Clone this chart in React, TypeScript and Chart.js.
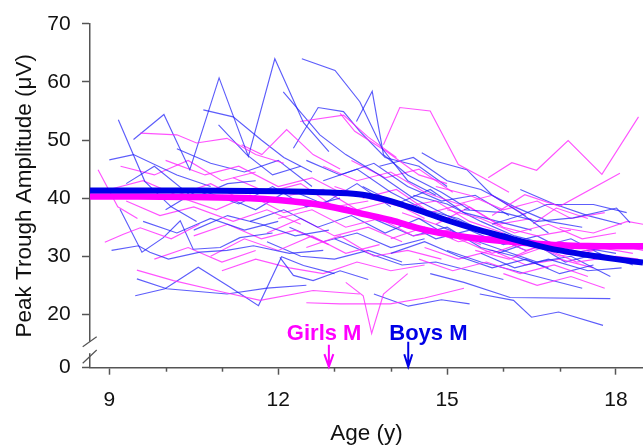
import React, { useEffect, useRef } from "react";
import { Chart, registerables } from "chart.js";

Chart.register(...registerables);

// ---- axis definitions ----
const xMin = 8.657;
const xMax = 18.48;
const xTickValues = [9, 12, 15, 18];
const xMinorTickValues = [10, 11, 13, 14, 16, 17];
const yTickValues = [20, 30, 40, 50, 60, 70];
const yBreakValue = 10.81; // where the "0" tick sits below the axis break
const yBreakLabel = "0";
const yMax = 70;

// ---- group means (thick curves) ----
const boysMeanAges = [8.657, 9.5, 10.5, 11.5, 12.0, 12.5, 13.0, 13.5, 14.0, 14.5, 15.0, 15.5, 16.0, 16.5, 17.0, 17.5, 18.0, 18.48];
const boysMeanValues = [41.3, 41.3, 41.3, 41.25, 41.2, 41.1, 40.95, 40.6, 39.5, 37.9, 36.2, 34.7, 33.4, 32.1, 31.0, 30.2, 29.5, 28.9];
const girlsMeanAges = [8.657, 9.5, 10.5, 11.5, 12.0, 12.5, 13.0, 13.5, 14.0, 14.5, 15.0, 15.5, 16.0, 16.5, 17.0, 17.5, 18.0, 18.48];
const girlsMeanValues = [40.3, 40.3, 40.2, 40.0, 39.7, 39.2, 38.4, 37.3, 36.2, 34.8, 33.8, 33.1, 32.6, 32.2, 31.9, 31.75, 31.7, 31.7];

// ---- age at peak (M) markers ----
const girlsMarkerAge = 12.9;
const boysMarkerAge = 14.31;
const girlsMarkerLabel = "Girls M";
const boysMarkerLabel = "Boys M";

// ---- individual trajectories [age, amplitude] ----
const boysSubjects: number[][][] = [
  [[9.16, 53.5], [9.63, 42.9], [10.1, 38.5], [10.55, 36.0]],
  [[9.43, 50.1], [9.97, 54.4], [10.43, 44.9], [10.95, 60.7], [11.47, 47.2], [11.94, 64.0], [12.45, 53.0], [12.9, 48.0]],
  [[12.42, 64.0], [13.01, 62.0], [13.45, 56.6], [13.85, 48.5], [14.3, 43.0], [14.8, 40.5]],
  [[13.39, 53.2], [13.67, 58.4], [13.87, 47.5], [14.3, 44.0], [14.9, 41.0], [15.4, 38.0]],
  [[10.67, 55.2], [11.2, 54.0], [11.7, 50.0], [12.1, 47.0], [12.6, 44.5]],
  [[12.09, 58.3], [12.74, 50.9], [13.2, 47.5], [13.8, 44.0], [14.4, 40.0], [15.0, 37.0], [15.6, 34.5]],
  [[10.94, 52.6], [11.44, 47.5], [11.9, 44.0], [12.4, 45.5]],
  [[12.27, 48.6], [12.71, 55.6], [13.16, 54.9], [13.45, 51.5], [13.9, 47.0], [14.5, 45.5], [15.0, 42.0]],
  [[14.55, 47.8], [14.82, 46.3], [15.35, 44.9], [15.8, 40.5], [16.3, 37.5], [16.8, 34.0]],
  [[15.8, 35.5], [16.3, 37.0], [16.77, 38.9], [17.6, 38.9], [18.19, 37.5]],
  [[15.3, 38.0], [16.0, 37.5], [16.6, 36.0], [17.24, 36.6], [18.01, 38.3], [18.25, 35.8]],
  [[9.46, 23.2], [9.99, 24.4], [10.58, 28.1], [11.14, 24.7], [11.65, 21.5], [12.06, 29.9], [12.45, 28.4], [13.0, 27.0]],
  [[9.49, 26.1], [10.02, 24.4], [11.09, 23.5], [11.8, 24.5], [12.5, 25.0]],
  [[9.04, 31.0], [9.52, 31.8], [9.72, 30.7], [10.05, 29.5], [10.61, 30.7], [11.09, 31.0], [11.56, 31.8], [12.2, 30.5], [12.8, 31.0]],
  [[9.19, 38.1], [9.58, 30.7], [9.96, 33.2], [10.26, 36.1], [10.49, 31.2], [10.97, 31.5], [11.32, 33.2], [11.9, 34.0]],
  [[12.03, 29.8], [12.27, 26.7], [12.62, 25.8], [13.1, 27.5], [13.6, 26.0]],
  [[15.58, 23.5], [16.18, 22.4], [16.5, 19.5], [16.98, 20.4], [17.77, 18.1]],
  [[14.7, 27.0], [15.3, 25.5], [16.12, 22.9], [17.9, 22.7]],
  [[13.7, 23.5], [14.31, 21.4], [14.9, 22.5], [15.4, 21.8]],
  [[9.0, 46.6], [9.43, 47.5], [10.2, 44.0], [10.8, 42.0]],
  [[9.3, 42.5], [9.8, 45.5], [10.5, 40.0], [11.1, 42.5], [11.6, 43.0]],
  [[10.0, 38.0], [10.6, 41.5], [11.3, 39.0], [11.9, 42.0], [12.5, 38.5], [13.1, 40.0]],
  [[11.5, 36.0], [12.1, 38.0], [12.7, 35.0], [13.3, 37.0], [13.9, 34.0], [14.5, 36.5], [15.1, 33.0]],
  [[12.8, 43.0], [13.4, 45.0], [14.0, 41.0], [14.6, 38.0], [15.2, 36.5], [15.8, 33.5], [16.4, 31.0]],
  [[13.2, 38.5], [13.8, 36.0], [14.4, 33.5], [15.0, 35.0], [15.6, 31.5], [16.2, 30.0], [16.8, 28.0]],
  [[14.0, 30.5], [14.6, 32.5], [15.2, 30.0], [15.8, 28.0], [16.4, 29.5], [17.0, 27.0], [17.6, 28.5]],
  [[15.0, 31.0], [15.6, 29.0], [16.2, 27.5], [16.8, 26.0], [17.4, 24.5]],
  [[13.0, 33.0], [13.6, 30.5], [14.2, 28.5], [14.8, 29.0], [15.4, 27.5], [16.0, 26.0]],
  [[10.5, 34.5], [11.1, 37.0], [11.7, 35.5], [12.3, 33.5], [12.9, 34.5]],
  [[14.4, 40.5], [15.0, 39.0], [15.6, 36.0], [16.2, 33.5], [16.8, 32.0], [17.4, 31.5], [18.0, 30.5]],
  [[16.0, 34.0], [16.6, 31.5], [17.2, 33.0], [17.8, 30.0]],
  [[11.8, 32.5], [12.4, 30.0], [13.0, 29.5], [13.6, 31.0], [14.2, 29.0]],
  [[15.6, 30.5], [16.2, 28.0], [16.8, 29.5], [17.5, 27.5], [18.1, 28.0]],
  [[13.5, 42.0], [14.1, 39.0], [14.7, 41.5], [15.3, 37.5], [15.9, 36.0], [16.5, 34.5]],
  [[14.8, 35.5], [15.4, 33.0], [16.0, 31.0], [16.6, 29.0], [17.2, 30.0], [17.9, 26.5]],
  [[11.0, 40.5], [11.6, 38.0], [12.2, 41.5], [12.8, 39.0], [13.4, 42.5], [14.0, 38.5]],
  [[12.5, 46.5], [13.1, 44.0], [13.7, 46.0], [14.3, 42.0], [14.9, 39.5], [15.5, 40.5], [16.1, 37.0]],
  [[13.8, 45.5], [14.4, 47.0], [15.0, 43.0], [15.6, 41.5], [16.2, 38.5], [16.8, 36.0], [17.4, 35.0]],
  [[14.2, 36.0], [14.8, 33.0], [15.4, 34.5], [16.0, 32.0], [16.6, 33.5], [17.2, 30.5], [17.8, 31.5]],
  [[9.6, 36.0], [10.2, 34.0], [10.8, 36.5], [11.4, 34.5], [12.0, 36.0]],
  [[12.2, 35.0], [12.8, 32.5], [13.4, 34.0], [14.0, 31.5], [14.6, 33.0]],
  [[15.9, 30.5], [16.5, 32.5], [17.1, 29.0], [17.7, 30.5], [18.3, 28.5]],
  [[16.3, 41.5], [16.9, 39.0], [17.5, 37.0], [18.1, 35.5]],
  [[10.2, 48.5], [10.8, 46.0], [11.4, 44.5], [12.0, 46.5], [12.6, 42.0]],
];

const girlsSubjects: number[][][] = [
  [[9.55, 51.2], [10.2, 50.9], [10.55, 49.5], [11.09, 50.3], [11.6, 47.5], [12.1, 46.0]],
  [[11.35, 49.2], [11.71, 47.5], [12.15, 51.8], [12.62, 47.5], [13.1, 45.0]],
  [[12.39, 53.2], [13.16, 54.3], [13.6, 50.5], [14.1, 47.0]],
  [[8.8, 44.9], [9.15, 38.5], [9.5, 36.5]],
  [[13.1, 54.6], [13.36, 51.5], [13.93, 48.0], [14.5, 44.0], [15.0, 42.5]],
  [[13.87, 49.2], [14.16, 55.6], [14.7, 55.0], [15.2, 45.8], [15.64, 43.5], [16.1, 41.0]],
  [[15.73, 43.5], [16.15, 46.1], [16.59, 44.8], [17.15, 49.9], [17.75, 44.1], [18.4, 54.0]],
  [[15.8, 37.0], [16.38, 40.6], [17.0, 38.6], [18.07, 44.3]],
  [[9.49, 27.6], [10.14, 25.8], [11.03, 23.8], [11.68, 22.4], [12.62, 24.1], [13.45, 23.5]],
  [[12.5, 22.0], [13.1, 21.8], [13.99, 21.8], [14.6, 22.8], [15.3, 24.5]],
  [[13.2, 25.5], [13.51, 23.2], [13.66, 16.7], [13.87, 23.5], [14.3, 27.0]],
  [[8.92, 32.4], [9.25, 33.8], [9.55, 34.9], [10.1, 33.0], [10.6, 35.5]],
  [[16.53, 35.6], [16.94, 38.3], [17.5, 36.5]],
  [[9.0, 41.5], [9.6, 43.0], [10.2, 40.5], [10.8, 42.5], [11.4, 39.5]],
  [[9.3, 39.5], [9.9, 37.0], [10.5, 38.5], [11.2, 36.0], [11.8, 38.0], [12.4, 35.5]],
  [[10.0, 46.5], [10.7, 44.0], [11.3, 45.5], [12.0, 42.0], [12.6, 43.5], [13.2, 40.5]],
  [[10.8, 30.0], [11.4, 33.0], [12.0, 31.0], [12.6, 33.5], [13.2, 30.5], [13.8, 32.0]],
  [[11.0, 27.5], [11.6, 29.5], [12.2, 28.0], [12.8, 27.0], [13.4, 29.0], [14.0, 27.5], [14.6, 28.5]],
  [[12.0, 36.5], [12.6, 38.0], [13.2, 35.0], [13.8, 36.5], [14.4, 33.5], [15.0, 34.5], [15.6, 32.0]],
  [[13.0, 42.0], [13.6, 40.0], [14.2, 38.5], [14.8, 39.5], [15.4, 36.0], [16.0, 34.0]],
  [[14.0, 33.0], [14.6, 35.0], [15.2, 32.5], [15.8, 33.5], [16.4, 31.0], [17.0, 32.5], [17.6, 31.0]],
  [[14.5, 29.5], [15.1, 27.5], [15.7, 29.0], [16.3, 27.0], [16.9, 28.5], [17.5, 26.5]],
  [[15.0, 38.0], [15.6, 36.5], [16.2, 34.0], [16.8, 35.5], [17.4, 33.0], [18.0, 34.0]],
  [[15.5, 31.0], [16.1, 29.5], [16.7, 31.5], [17.3, 29.0], [18.0, 30.0], [18.4, 29.5]],
  [[16.0, 27.0], [16.6, 25.0], [17.2, 26.5], [17.8, 24.5]],
  [[12.5, 31.5], [13.1, 33.5], [13.7, 30.0], [14.3, 31.0], [14.9, 29.5]],
  [[10.3, 40.0], [10.9, 38.0], [11.5, 40.5], [12.1, 37.5], [12.7, 39.0]],
  [[17.0, 35.0], [17.6, 34.0], [18.2, 36.0], [18.48, 35.5]],
  [[9.8, 29.5], [10.4, 31.5], [11.0, 29.0], [11.6, 31.0]],
  [[12.8, 45.5], [13.4, 43.0], [14.0, 44.5], [14.6, 41.0], [15.2, 39.0], [15.8, 40.5], [16.4, 37.0]],
  [[11.2, 43.5], [11.8, 41.0], [12.4, 42.5], [13.0, 38.5], [13.6, 39.5]],
  [[14.2, 37.5], [14.8, 35.5], [15.4, 38.5], [16.0, 35.0], [16.6, 33.5], [17.2, 34.5]],
  [[15.2, 33.0], [15.8, 30.5], [16.4, 32.5], [17.0, 30.0], [17.7, 31.5], [18.3, 30.5]],
  [[11.8, 34.0], [12.4, 36.5], [13.0, 33.5], [13.6, 35.0], [14.2, 32.5]],
  [[13.5, 40.0], [14.1, 41.5], [14.7, 37.5], [15.3, 39.0], [15.9, 35.5], [16.5, 36.5]],
  [[14.8, 42.0], [15.4, 40.5], [16.0, 38.0], [16.6, 39.5], [17.2, 36.5], [17.8, 37.5]],
  [[9.2, 45.5], [9.8, 44.0], [10.4, 46.5], [11.0, 43.0], [11.6, 44.5]],
  [[16.2, 30.0], [16.8, 32.5], [17.4, 30.5], [18.0, 32.0], [18.48, 31.0]],
  [[12.2, 40.5], [12.8, 41.5], [13.4, 38.0], [14.0, 39.5], [14.6, 36.5]],
  [[10.5, 33.5], [11.1, 35.5], [11.7, 33.0], [12.3, 34.5], [12.9, 32.0]],
  [[14.6, 31.5], [15.2, 29.5], [15.8, 31.0], [16.4, 28.5], [17.0, 29.5], [17.6, 28.0]],
  [[13.3, 46.5], [13.9, 43.5], [14.5, 45.0], [15.1, 41.0]],
];

// ---- styling ----
const FONT = "'Liberation Sans', Arial, Helvetica, sans-serif";
const AXIS_COLOR = "#555555";
const TEXT_COLOR = "#111111";
const BOY_THIN = "rgba(30,30,250,0.72)";
const GIRL_THIN = "rgba(255,40,255,0.80)";
const BOY_THICK = "#0000e6";
const GIRL_THICK = "#ff00ff";

const decorPlugin = {
  id: "decor",
  afterDraw(chart: any) {
    const { ctx, chartArea, scales } = chart;
    const xs = scales.x;
    const L = chartArea.left;
    const B = chartArea.bottom;
    ctx.save();
    // minor x ticks
    ctx.strokeStyle = AXIS_COLOR;
    ctx.lineWidth = 1.5;
    xMinorTickValues.forEach((v) => {
      const px = Math.round(xs.getPixelForValue(v)) + 0.5;
      ctx.beginPath();
      ctx.moveTo(px, B);
      ctx.lineTo(px, B + 4);
      ctx.stroke();
    });
    // axis break
    ctx.fillStyle = "#ffffff";
    ctx.fillRect(L - 3, B - 26, 6, 11.5);
    ctx.strokeStyle = AXIS_COLOR;
    ctx.lineWidth = 1.2;
    ctx.beginPath();
    ctx.moveTo(L - 7.3, B - 21);
    ctx.lineTo(L + 6.7, B - 31);
    ctx.moveTo(L - 7.3, B - 4.4);
    ctx.lineTo(L + 6.7, B - 17.7);
    ctx.stroke();

    // markers
    const drawMarker = (age: number, color: string, label: string, textOffset: number, shaftTop: number, headHalf: number) => {
      const px = xs.getPixelForValue(age);
      ctx.strokeStyle = color;
      ctx.lineWidth = 2;
      ctx.beginPath();
      ctx.moveTo(px, shaftTop);
      ctx.lineTo(px, B - 1);
      ctx.moveTo(px - headHalf, B - 13.5);
      ctx.lineTo(px, B - 1);
      ctx.lineTo(px + headHalf, B - 13.5);
      ctx.stroke();
      ctx.fillStyle = color;
      ctx.font = `bold 22px ${FONT}`;
      ctx.textAlign = "left";
      ctx.textBaseline = "alphabetic";
      ctx.fillText(label, px + textOffset, B - 27.5);
    };
    drawMarker(girlsMarkerAge, GIRL_THICK, girlsMarkerLabel, -42, B - 23, 4.5);
    drawMarker(boysMarkerAge, BOY_THICK, boysMarkerLabel, -19, B - 26, 4);
    ctx.restore();
  },
};

export default function App() {
  const ref = useRef<HTMLCanvasElement | null>(null);

  useEffect(() => {
    document.body.style.margin = "0";
    const canvas = ref.current;
    if (!canvas) return;

    const toPts = (arr: number[][]) => arr.map(([x, y]) => ({ x, y }));
    const thin: any[] = [];
    const n = Math.max(boysSubjects.length, girlsSubjects.length);
    for (let i = 0; i < n; i++) {
      if (i < boysSubjects.length) {
        thin.push({
          data: toPts(boysSubjects[i]),
          borderColor: BOY_THIN,
          borderWidth: 1.15,
          pointRadius: 0,
          tension: 0,
          fill: false,
          order: 3,
        });
      }
      if (i < girlsSubjects.length) {
        thin.push({
          data: toPts(girlsSubjects[i]),
          borderColor: GIRL_THIN,
          borderWidth: 1.15,
          pointRadius: 0,
          tension: 0,
          fill: false,
          order: 3,
        });
      }
    }

    const datasets = [
      {
        data: boysMeanAges.map((x, i) => ({ x, y: boysMeanValues[i] })),
        borderColor: BOY_THICK,
        borderWidth: 6,
        pointRadius: 0,
        cubicInterpolationMode: "monotone",
        fill: false,
        order: 0,
      },
      {
        data: girlsMeanAges.map((x, i) => ({ x, y: girlsMeanValues[i] })),
        borderColor: GIRL_THICK,
        borderWidth: 6.5,
        pointRadius: 0,
        cubicInterpolationMode: "monotone",
        fill: false,
        order: 1,
      },
      ...thin,
    ];

    const chart = new Chart(canvas, {
      type: "line",
      data: { datasets } as any,
      plugins: [decorPlugin],
      options: {
        animation: false,
        responsive: false,
        events: [],
        layout: { padding: { top: 21.7, right: 0, left: 0, bottom: 0 } },
        plugins: { legend: { display: false }, tooltip: { enabled: false } },
        scales: {
          x: {
            type: "linear",
            min: xMin,
            max: xMax,
            afterFit: (s: any) => {
              s.height = 447 - 367.7;
            },
            afterBuildTicks: (s: any) => {
              s.ticks = xTickValues.map((v) => ({ value: v }));
            },
            ticks: {
              color: TEXT_COLOR,
              font: { family: FONT, size: 21 },
              padding: 12.5,
              maxRotation: 0,
              autoSkip: false,
              callback: (v: any) => String(v),
            },
            grid: {
              drawOnChartArea: false,
              drawTicks: true,
              tickLength: 7,
              tickColor: AXIS_COLOR,
              tickWidth: 1.5,
            },
            border: { display: true, color: AXIS_COLOR, width: 1.5 },
            title: {
              display: true,
              text: "Age (y)",
              color: TEXT_COLOR,
              font: { family: FONT, size: 22.5, lineHeight: 1 },
              padding: { top: 0, bottom: 1.5 },
            },
          },
          y: {
            type: "linear",
            min: yBreakValue,
            max: yMax,
            afterFit: (s: any) => {
              s.width = 90;
            },
            afterBuildTicks: (s: any) => {
              s.ticks = [yBreakValue, ...yTickValues].map((v) => ({ value: v }));
            },
            ticks: {
              color: TEXT_COLOR,
              font: { family: FONT, size: 21 },
              padding: 11.3,
              autoSkip: false,
              callback: (v: any) => (Math.abs(Number(v) - yBreakValue) < 0.01 ? yBreakLabel : String(v)),
            },
            grid: {
              drawOnChartArea: false,
              drawTicks: true,
              tickLength: 8,
              tickColor: AXIS_COLOR,
              tickWidth: 1.5,
            },
            border: { display: true, color: AXIS_COLOR, width: 1.5 },
            title: {
              display: true,
              text: "Peak Trough Amplitude (μV)",
              color: TEXT_COLOR,
              font: { family: FONT, size: 22.5, lineHeight: 1 },
              padding: { top: 13.75, bottom: 0 },
            },
          },
        },
      } as any,
    });
    return () => chart.destroy();
  }, []);

  return (
    <div style={{ width: 643, height: 447, position: "relative" }}>
      <canvas ref={ref} width={643} height={447} style={{ display: "block" }} />
    </div>
  );
}
